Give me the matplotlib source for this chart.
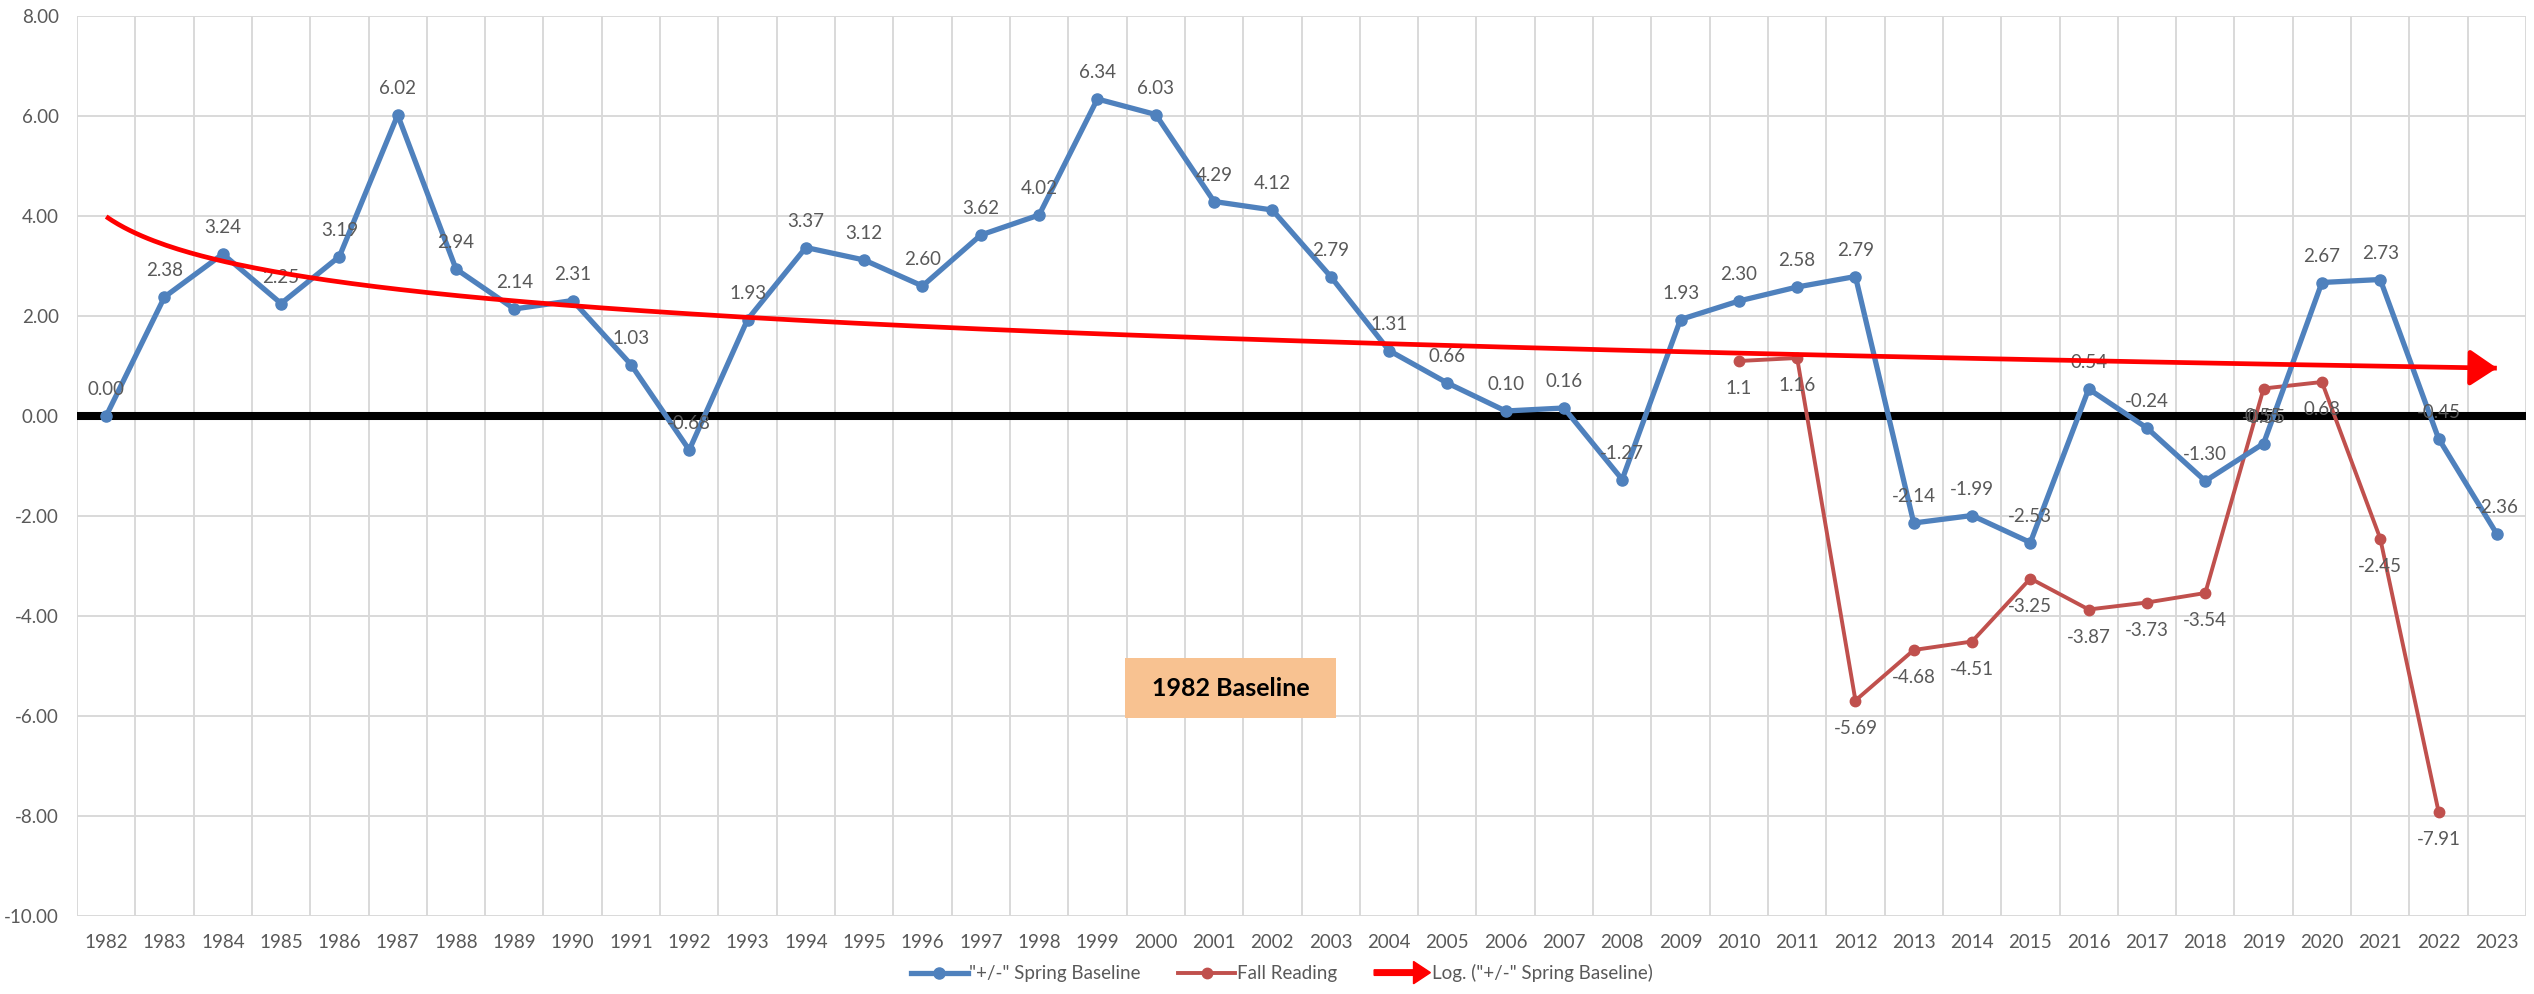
import numpy as np
import matplotlib
matplotlib.use('Agg')
import matplotlib.pyplot as plt
import matplotlib.patches as mpatches
from matplotlib.legend_handler import HandlerPatch

plt.rcParams['font.family'] = ['Lato', 'DejaVu Sans']

years = list(range(1982, 2024))
spring = [0.00, 2.38, 3.24, 2.25, 3.19, 6.02, 2.94, 2.14, 2.31, 1.03,
          -0.68, 1.93, 3.37, 3.12, 2.60, 3.62, 4.02, 6.34, 6.03, 4.29,
          4.12, 2.79, 1.31, 0.66, 0.10, 0.16, -1.27, 1.93, 2.30, 2.58,
          2.79, -2.14, -1.99, -2.53, 0.54, -0.24, -1.30, -0.55, 2.67, 2.73,
          -0.45, -2.36]
fall_years = list(range(2010, 2023))
fall = [1.1, 1.16, -5.69, -4.68, -4.51, -3.25, -3.87, -3.73, -3.54, 0.55,
        0.68, -2.45, -7.91]
fall_labels = ['1.1', '1.16', '-5.69', '-4.68', '-4.51', '-3.25', '-3.87',
               '-3.73', '-3.54', '0.55', '0.68', '-2.45', '-7.91']

BLUE = '#4F81BD'
FALL = '#C0504D'
GREY = '#595959'
FS = 13.5

fig = plt.figure(figsize=(25.34, 9.94), dpi=100)
ax = fig.add_axes([77 / 2534, 1 - 916 / 994, 2449 / 2534, 900 / 994])

x = np.arange(len(years))
fx = np.array([years.index(y) for y in fall_years])

ax.axhline(0, color='black', lw=5.8, zorder=1)
ax.plot(x, spring, color=BLUE, lw=3.8, marker='o', ms=8, zorder=3,
        label='"+/-" Spring Baseline')
ax.plot(fx, fall, color=FALL, lw=2.8, marker='o', ms=7.5, zorder=2,
        label='Fall Reading')

# logarithmic trendline (Excel style) fitted on the spring series
k = x + 1
a, b = np.polyfit(np.log(k), spring, 1)
kk = np.linspace(1, len(years), 400)
ax.plot(kk - 1, a * np.log(kk) + b, color='red', lw=3.4, zorder=5,
        solid_capstyle='butt')
xe = len(years) - 1
ax.annotate('', xy=(xe + 0.05, a * np.log(xe + 1) + b),
            xytext=(xe - 0.35, a * np.log(xe + 0.65) + b),
            arrowprops=dict(arrowstyle='-|>,head_length=0.75,head_width=0.5',
                            color='red', lw=3.4, mutation_scale=22), zorder=5)

for xi, v in zip(x, spring):
    ax.annotate(f'{v:.2f}', (xi, v), xytext=(0, 19), textcoords='offset points',
                ha='center', va='center', fontsize=FS, color=GREY, zorder=4)
for xi, v, s in zip(fx, fall, fall_labels):
    ax.annotate(s, (xi, v), xytext=(0, -20), textcoords='offset points',
                ha='center', va='center', fontsize=FS, color=GREY, zorder=4)

ax.add_patch(mpatches.Rectangle((0.4279, 0.22), 0.0862, 0.0667,
                                transform=ax.transAxes, facecolor='#F8C291',
                                edgecolor='none', zorder=6))
ax.text(0.471, 0.2533, '1982 Baseline', transform=ax.transAxes, ha='center',
        va='center', fontsize=18, fontweight='bold', color='black', zorder=7)

ax.set_xlim(-0.5, len(years) - 0.5)
ax.set_ylim(-10, 8)
ax.set_yticks(np.arange(-10, 9, 2))
ax.set_yticklabels([f'{t:.2f}' for t in np.arange(-10, 9, 2)])
ax.set_xticks(x)
ax.set_xticklabels([str(y) for y in years])
ax.set_xticks(np.arange(-0.5, len(years), 1), minor=True)
ax.tick_params(axis='both', which='both', length=0, labelsize=FS,
               colors=GREY)
ax.tick_params(axis='y', pad=13)
ax.tick_params(axis='x', pad=13)
ax.grid(True, axis='y', which='major', color='#D9D9D9', lw=1.4, zorder=0)
ax.grid(True, axis='x', which='minor', color='#D9D9D9', lw=1.4, zorder=0)
ax.set_axisbelow(True)
for sp in ax.spines.values():
    sp.set_visible(False)


def make_arrow(legend, orig_handle, xdescent, ydescent, width, height, fontsize):
    return mpatches.FancyArrow(-xdescent, height / 2 - ydescent, width, 0,
                               width=4, head_width=height * 1.7,
                               head_length=width * 0.3,
                               length_includes_head=True)


arrow_proxy = mpatches.FancyArrow(0, 0, 1, 0, color='red')
handles, labels = ax.get_legend_handles_labels()
handles.append(arrow_proxy)
labels.append('Log. ("+/-" Spring Baseline)')
fig.legend(handles, labels, loc='center', bbox_to_anchor=(0.506, 0.021),
           ncol=3, frameon=False, fontsize=FS, handlelength=3.0,
           handletextpad=0.1, columnspacing=2.0, labelcolor=GREY,
           handler_map={mpatches.FancyArrow: HandlerPatch(patch_func=make_arrow)})

fig.savefig('out.png', dpi=100)
